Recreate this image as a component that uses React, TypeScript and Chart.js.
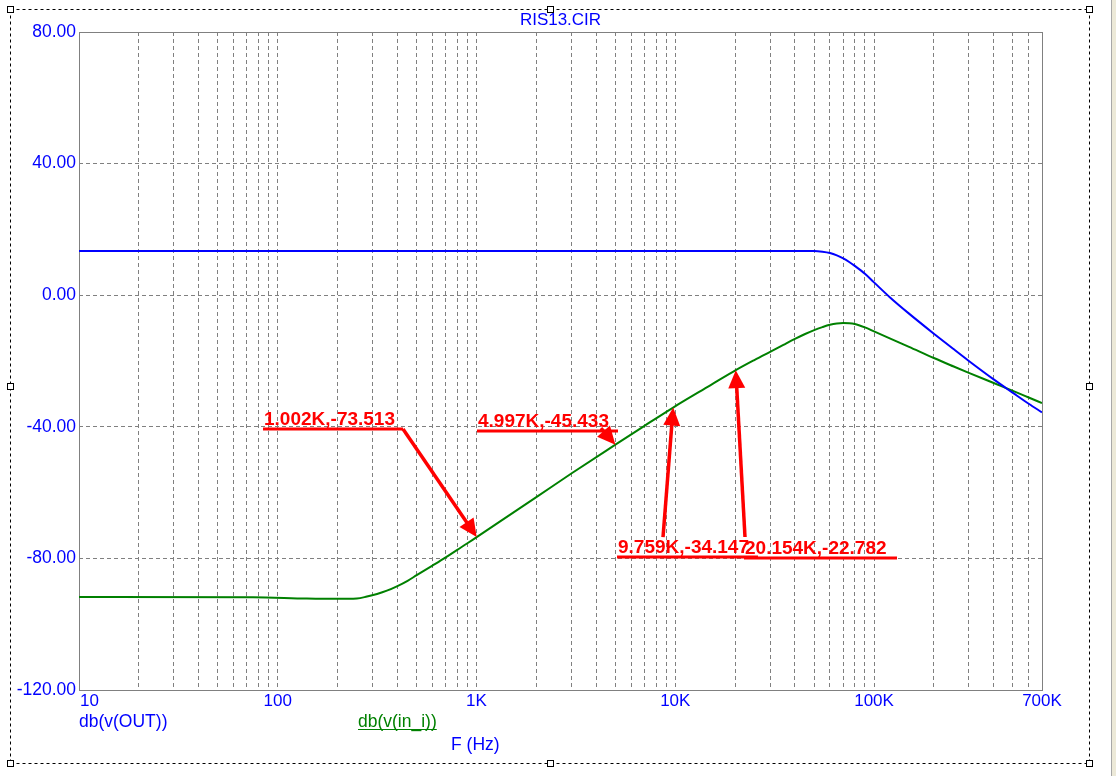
import { useEffect, useRef } from 'react';
import { Chart, registerables } from 'chart.js';

Chart.register(...registerables);

const W = 1116;
const H = 776;

const chartTitle = 'RIS13.CIR';
const xAxisTitle = 'F (Hz)';
const seriesNames = ['db(v(OUT))', 'db(v(in_i))'];
const seriesColors = ['#0000FF', '#008000'];

// db(v(OUT))
const outFreq = [10, 100, 1000, 10000, 30000, 45000, 50000, 55000, 60000, 65000, 70000, 75000, 80000, 90000, 100000, 120000, 150000, 200000, 250000, 300000, 400000, 500000, 600000, 700000];
const outDb = [13.4, 13.4, 13.4, 13.4, 13.4, 13.4, 13.4, 13.2, 12.8, 12.1, 11.2, 10.1, 8.9, 6.5, 3.9, -0.6, -5.6, -11.7, -16.3, -20.0, -25.6, -29.7, -33.0, -35.6];

// db(v(in_i))
const inFreq = [10, 75, 140, 200, 250, 281, 316, 354, 400, 450, 500, 600, 700, 800, 900, 1002, 2000, 3000, 4997, 7000, 9759, 15000, 20154, 25000, 30000, 35000, 40000, 45000, 50000, 55000, 60000, 65000, 70000, 75000, 80000, 90000, 100000, 120000, 150000, 200000, 250000, 300000, 400000, 500000, 600000, 700000];
const inDb = [-91.7, -91.8, -92.2, -92.3, -92.2, -91.6, -90.8, -89.8, -88.4, -86.8, -85.1, -82.2, -79.7, -77.4, -75.4, -73.513, -61.4, -54.2, -45.433, -39.7, -34.147, -27.4, -22.782, -19.7, -17.2, -15.1, -13.3, -11.8, -10.6, -9.7, -9.0, -8.6, -8.45, -8.5, -8.75, -9.8, -11.0, -13.1, -15.7, -19.1, -21.6, -23.6, -26.7, -29.1, -31.1, -32.8];

// axes
const xMin = 10;
const xMax = 700000;
const xGridValues = [
  10, 20, 30, 40, 50, 60, 70, 80, 90,
  100, 200, 300, 400, 500, 600, 700, 800, 900,
  1000, 2000, 3000, 4000, 5000, 6000, 7000, 8000, 9000,
  10000, 20000, 30000, 40000, 50000, 60000, 70000, 80000, 90000,
  100000, 200000, 300000, 400000, 500000, 600000, 700000,
];
const xTickValues = [10, 100, 1000, 10000, 100000, 700000];
const xTickLabels = ['10', '100', '1K', '10K', '100K', '700K'];
const yTickValues = [-120, -80, -40, 0, 40, 80];

// markers (cursor labels)
const markerFreq = [1002, 4997, 9759, 20154];
const markerDb = [-73.513, -45.433, -34.147, -22.782];
const markerLabels = ['1.002K,-73.513', '4.997K,-45.433', '9.759K,-34.147', '20.154K,-22.782'];

// callout placement in data space: underline span (freq), underline level (dB), arrow tail
const calloutFrom = [84.3, 1005.6, 5092, 22170];
const calloutTo = [426.7, 5150, 26079, 130500];
const calloutLevel = [-40.67, -41.28, -79.57, -79.88];
const calloutTailF = [426.7, 4227, 8676, 22430];
const calloutTailDb = [-40.67, -40.4, -73.5, -73.5];

const FONT = '"Liberation Sans", Arial, sans-serif';

function drawArrow(ctx: CanvasRenderingContext2D, x0: number, y0: number, x1: number, y1: number, headLen: number, headW: number, shaftW: number) {
  const dx = x1 - x0;
  const dy = y1 - y0;
  const len = Math.hypot(dx, dy) || 1;
  const ux = dx / len;
  const uy = dy / len;
  const bx = x1 - ux * headLen;
  const by = y1 - uy * headLen;
  if (len > headLen) {
    ctx.lineWidth = shaftW;
    ctx.beginPath();
    ctx.moveTo(x0, y0);
    ctx.lineTo(bx + ux * 2, by + uy * 2);
    ctx.stroke();
  }
  ctx.beginPath();
  ctx.moveTo(x1, y1);
  ctx.lineTo(bx - uy * headW / 2, by + ux * headW / 2);
  ctx.lineTo(bx + uy * headW / 2, by - ux * headW / 2);
  ctx.closePath();
  ctx.fill();
}

const decorPlugin = {
  id: 'decor',
  beforeDatasetsDraw(chart: any) {
    const { ctx, chartArea: a } = chart;
    ctx.save();
    ctx.setLineDash([]);
    ctx.strokeStyle = '#808080';
    ctx.lineWidth = 1;
    ctx.strokeRect(Math.round(a.left) + 0.5, Math.round(a.top) + 0.5, Math.round(a.right - a.left), Math.round(a.bottom - a.top));
    ctx.restore();
  },
  afterDatasetsDraw(chart: any) {
    const { ctx } = chart;
    const xs = chart.scales.x;
    const ys = chart.scales.y;
    ctx.save();
    ctx.fillStyle = '#FF0000';
    ctx.strokeStyle = '#FF0000';
    ctx.lineCap = 'butt';
    ctx.font = `bold 19px ${FONT}`;
    ctx.textAlign = 'left';
    ctx.textBaseline = 'alphabetic';
    for (let i = 0; i < markerFreq.length; i++) {
      const lx0 = xs.getPixelForValue(calloutFrom[i]);
      const lx1 = xs.getPixelForValue(calloutTo[i]);
      const ly = ys.getPixelForValue(calloutLevel[i]);
      ctx.lineWidth = 3;
      ctx.beginPath();
      ctx.moveTo(lx0, ly);
      ctx.lineTo(lx1, ly);
      ctx.stroke();
      ctx.fillText(markerLabels[i], lx0 + 1, ly - 4);
      const tx = xs.getPixelForValue(calloutTailF[i]);
      const ty = ys.getPixelForValue(calloutTailDb[i]);
      const px = xs.getPixelForValue(markerFreq[i]);
      const py = ys.getPixelForValue(markerDb[i]);
      drawArrow(ctx, tx, ty, px, py, 18, 17, 3.5);
    }
    ctx.restore();
  },
  afterDraw(chart: any) {
    const { ctx, chartArea: a } = chart;
    const xs = chart.scales.x;
    ctx.save();
    // window edge strip
    ctx.fillStyle = '#ECE9D8';
    ctx.fillRect(1111, 0, W - 1111, H);
    ctx.fillStyle = '#A8A8A8';
    ctx.fillRect(1111, 0, 1, H);

    // outer dashed selection frame
    const fl = 10.5, ft = 9.5, fr = 1089.5, fb = 763.5;
    ctx.strokeStyle = '#000000';
    ctx.lineWidth = 1;
    ctx.setLineDash([3, 3]);
    ctx.beginPath();
    ctx.moveTo(fl, ft); ctx.lineTo(fr, ft);
    ctx.moveTo(fr, ft); ctx.lineTo(fr, fb);
    ctx.moveTo(fl, fb); ctx.lineTo(fr, fb);
    ctx.moveTo(fl, ft); ctx.lineTo(fl, fb);
    ctx.stroke();
    ctx.setLineDash([]);
    const mx = 550.5, my = 386.5;
    const handles = [[fl, ft], [mx, ft], [fr, ft], [fl, my], [fr, my], [fl, fb], [mx, fb], [fr, fb]];
    for (const [hx, hy] of handles) {
      ctx.fillStyle = '#FFFFFF';
      ctx.fillRect(hx - 3, hy - 3, 6, 6);
      ctx.strokeRect(hx - 3, hy - 3, 6, 6);
    }

    // title
    ctx.fillStyle = '#0000FF';
    ctx.font = `17px ${FONT}`;
    ctx.textAlign = 'center';
    ctx.textBaseline = 'middle';
    ctx.fillText(chartTitle, (a.left + a.right) / 2, 20);

    // x tick labels
    for (let i = 0; i < xTickValues.length; i++) {
      const px = xs.getPixelForValue(xTickValues[i]);
      if (i === 0) {
        ctx.textAlign = 'left';
        ctx.fillText(xTickLabels[i], px + 1, 701);
      } else {
        ctx.textAlign = 'center';
        ctx.fillText(xTickLabels[i], px, 701);
      }
    }

    // trace names
    ctx.font = `17.5px ${FONT}`;
    ctx.textAlign = 'left';
    ctx.fillStyle = seriesColors[0];
    ctx.fillText(seriesNames[0], 79, 722);
    ctx.fillStyle = seriesColors[1];
    ctx.fillText(seriesNames[1], 358, 722);
    const w2 = ctx.measureText(seriesNames[1]).width;
    ctx.fillRect(358, 729, w2, 1);

    // x axis title
    ctx.fillStyle = '#0000FF';
    ctx.fillText(xAxisTitle, 451, 745);
    ctx.restore();
  },
};

export default function App() {
  const ref = useRef<HTMLCanvasElement | null>(null);

  useEffect(() => {
    const canvas = ref.current;
    if (!canvas) return;
    const chart = new Chart(canvas, {
      type: 'line',
      data: {
        datasets: [
          {
            label: seriesNames[0],
            data: outFreq.map((f, i) => ({ x: f, y: outDb[i] })),
            borderColor: seriesColors[0],
            backgroundColor: seriesColors[0],
            borderWidth: 2,
            pointRadius: 0,
            cubicInterpolationMode: 'monotone',
            fill: false,
          },
          {
            label: seriesNames[1],
            data: inFreq.map((f, i) => ({ x: f, y: inDb[i] })),
            borderColor: seriesColors[1],
            backgroundColor: seriesColors[1],
            borderWidth: 2,
            pointRadius: 0,
            cubicInterpolationMode: 'monotone',
            fill: false,
          },
        ],
      },
      options: {
        responsive: false,
        animation: false,
        events: [],
        devicePixelRatio: 1,
        layout: { padding: { left: 0, top: 32, right: 74, bottom: 0 } },
        plugins: {
          legend: { display: false },
          tooltip: { enabled: false },
          title: { display: false },
        },
        scales: {
          x: {
            type: 'logarithmic',
            position: 'bottom',
            min: xMin,
            max: xMax,
            afterBuildTicks: (s: any) => {
              s.ticks = xGridValues.map((v) => ({ value: v }));
            },
            afterFit: (s: any) => {
              s.height = 86;
            },
            ticks: { display: false, autoSkip: false },
            grid: { color: '#808080', lineWidth: 1, drawTicks: false },
            border: { display: false, dash: [4, 3] },
          },
          y: {
            type: 'linear',
            position: 'left',
            min: -120,
            max: 80,
            afterBuildTicks: (s: any) => {
              s.ticks = yTickValues.map((v) => ({ value: v }));
            },
            afterFit: (s: any) => {
              s.width = 79;
            },
            ticks: {
              color: '#0000FF',
              font: { family: FONT, size: 17.5 },
              padding: 3,
              autoSkip: false,
              callback: (v: any) => Number(v).toFixed(2),
            },
            grid: { color: '#808080', lineWidth: 1, drawTicks: false },
            border: { display: false, dash: [4, 3] },
          },
        },
      } as any,
      plugins: [decorPlugin],
    });
    return () => chart.destroy();
  }, []);

  return (
    <div style={{ position: 'absolute', left: 0, top: 0, width: W, height: H, background: '#FFFFFF' }}>
      <canvas ref={ref} width={W} height={H} style={{ display: 'block', width: W, height: H }} />
    </div>
  );
}
